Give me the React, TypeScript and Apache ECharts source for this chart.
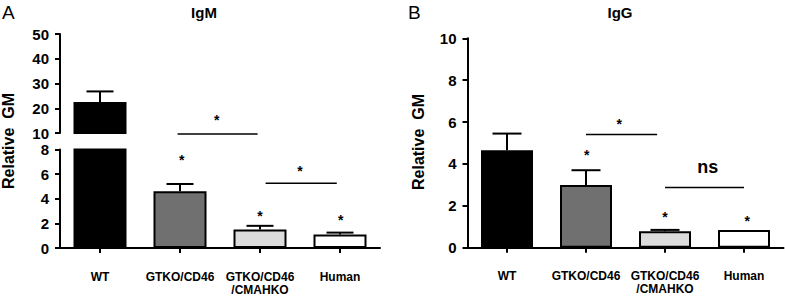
import React, { useEffect, useRef } from "react";
import * as echarts from "echarts";

const categories = ["WT", "GTKO/CD46", "GTKO/CD46\n/CMAHKO", "Human"];
const barColors = ["#000000", "#707070", "#dcdcdc", "#ffffff"];

// IgM (panel A) — broken axis
const igmMean = [22.5, 4.6, 1.5, 1.1];
const igmErrTop = [26.8, 5.2, 1.8, 1.25];
const igmLowerTicks = { min: 0, max: 8, interval: 2 };
const igmUpperTicks = { min: 10, max: 50, interval: 10 };
// significance lines: [fromCat, toCat, y]  (lower-grid units)
const igmSigLines = [
  [0.97, 1.97, 9.26],
  [2.07, 2.96, 5.26],
];
// significance marks: [cat, y, text]
const igmSigMarks: [number, number, string][] = [
  [1.46, 10.64, "*"],
  [2.5, 6.5, "*"],
  [1.02, 7.4, "*"],
  [2.0, 2.85, "*"],
  [3.01, 2.5, "*"],
];

// IgG (panel B)
const iggMean = [4.65, 3.0, 0.78, 0.84];
const iggErrTop = [5.45, 3.7, 0.85, 0.84];
const iggTicks = { min: 0, max: 10, interval: 2 };
const iggSigLines = [
  [1.0, 1.9, 5.41],
  [2.0, 3.0, 2.88],
];
const iggSigMarks: [number, number, string][] = [
  [1.42, 6.03, "*"],
  [2.54, 3.84, "ns"],
  [1.01, 4.56, "*"],
  [2.0, 1.6, "*"],
  [3.04, 1.41, "*"],
];

const FONT = '"Liberation Sans", Arial, Helvetica, sans-serif';

// category-axis position with fractional offset between bands
function catCoord(api: any, xv: number, y: number) {
  const base = Math.floor(xv);
  const frac = xv - base;
  const p = api.coord([base, y]);
  const band = api.size([1, 0])[0];
  return [p[0] + frac * band, p[1]];
}

function errorSeries(xi: number, yi: number, data: number[][], cap: number) {
  return {
    type: "custom",
    xAxisIndex: xi,
    yAxisIndex: yi,
    clip: false,
    silent: true,
    z: 1,
    data,
    renderItem: (params: any, api: any) => {
      const x = api.value(0);
      const v = api.value(1);
      const e = api.value(2);
      if (!(e > v)) return null;
      const p0 = api.coord([x, v]);
      const p1 = api.coord([x, e]);
      return {
        type: "group",
        children: [
          { type: "line", shape: { x1: p0[0], y1: p0[1], x2: p1[0], y2: p1[1] }, style: { stroke: "#000", lineWidth: 2 } },
          { type: "line", shape: { x1: p1[0] - cap / 2, y1: p1[1], x2: p1[0] + cap / 2, y2: p1[1] }, style: { stroke: "#000", lineWidth: 2 } },
        ],
      };
    },
  };
}

function sigLineSeries(xi: number, yi: number, data: number[][]) {
  return {
    type: "custom",
    xAxisIndex: xi,
    yAxisIndex: yi,
    clip: false,
    silent: true,
    data,
    renderItem: (params: any, api: any) => {
      const a = catCoord(api, api.value(0), api.value(2));
      const b = catCoord(api, api.value(1), api.value(2));
      return { type: "line", shape: { x1: a[0], y1: a[1], x2: b[0], y2: b[1] }, style: { stroke: "#000", lineWidth: 1.5 } };
    },
  };
}

function sigMarkSeries(xi: number, yi: number, marks: [number, number, string][]) {
  return {
    type: "custom",
    xAxisIndex: xi,
    yAxisIndex: yi,
    clip: false,
    silent: true,
    data: marks.map((m) => [m[0], m[1]]),
    renderItem: (params: any, api: any) => {
      const p = catCoord(api, api.value(0), api.value(1));
      const t = marks[params.dataIndex][2];
      const isStar = t === "*";
      return {
        type: "text",
        x: p[0],
        y: p[1] + (isStar ? 3 : 0),
        style: {
          text: t,
          fill: "#000",
          font: isStar ? `bold 14px ${FONT}` : `bold 18px ${FONT}`,
          align: "center",
          verticalAlign: "middle",
        },
      };
    },
  };
}

export default function App() {
  const ref = useRef<HTMLDivElement>(null);
  useEffect(() => {
    document.body.style.margin = "0";
    const chart = echarts.init(ref.current!, null, { renderer: "svg" });
    const axisLine = { show: true, lineStyle: { color: "#000", width: 2 } };
    const yLabel = { color: "#000", fontWeight: "bold", fontSize: 15, fontFamily: FONT, margin: 11 };
    const yTick = { show: true, length: 5, lineStyle: { color: "#000", width: 2 } };
    const xLabel = { color: "#000", fontWeight: "bold", fontSize: 12, lineHeight: 13, fontFamily: FONT, margin: 22, interval: 0 };
    const xTick = { show: true, alignWithLabel: true, length: 5, lineStyle: { color: "#000", width: 2 } };

    const barItems = (vals: number[]) =>
      vals.map((v, i) => ({ value: v, itemStyle: { color: barColors[i], borderColor: "#000", borderWidth: 2 } }));

    const option: any = {
      animation: false,
      grid: [
        { left: 60, top: 149.5, width: 320, height: 98.5 },
        { left: 60, top: 34, width: 320, height: 99 },
        { left: 467.5, top: 38.3, width: 316, height: 209.4 },
      ],
      xAxis: [
        { type: "category", gridIndex: 0, data: categories, axisLine, axisTick: xTick, axisLabel: xLabel, splitLine: { show: false } },
        { type: "category", gridIndex: 1, data: categories, show: false },
        { type: "category", gridIndex: 2, data: categories, axisLine, axisTick: xTick, axisLabel: xLabel, splitLine: { show: false } },
      ],
      yAxis: [
        { type: "value", gridIndex: 0, ...igmLowerTicks, axisLine, axisTick: yTick, axisLabel: yLabel, splitLine: { show: false } },
        { type: "value", gridIndex: 1, ...igmUpperTicks, axisLine, axisTick: yTick, axisLabel: yLabel, splitLine: { show: false } },
        { type: "value", gridIndex: 2, ...iggTicks, axisLine, axisTick: yTick, axisLabel: yLabel, splitLine: { show: false } },
      ],
      graphic: [
        { type: "text", left: 2, top: 3, style: { text: "A", font: `19px ${FONT}`, fill: "#000" } },
        { type: "text", left: 408, top: 3, style: { text: "B", font: `19px ${FONT}`, fill: "#000" } },
        { type: "text", x: 204, y: 12, style: { text: "IgM", font: `bold 15px ${FONT}`, fill: "#000", align: "center", verticalAlign: "middle" } },
        { type: "text", x: 620, y: 12, style: { text: "IgG", font: `bold 15px ${FONT}`, fill: "#000", align: "center", verticalAlign: "middle" } },
        { type: "text", x: 8, y: 141, rotation: Math.PI / 2, style: { text: "Relative  GM", font: `bold 16px ${FONT}`, fill: "#000", align: "center", verticalAlign: "middle" } },
        { type: "text", x: 418, y: 142, rotation: Math.PI / 2, style: { text: "Relative  GM", font: `bold 16px ${FONT}`, fill: "#000", align: "center", verticalAlign: "middle" } },
      ],
      series: [
        { type: "bar", xAxisIndex: 0, yAxisIndex: 0, barWidth: 53, clip: true, data: barItems(igmMean) },
        {
          type: "bar", xAxisIndex: 1, yAxisIndex: 1, barWidth: 53, clip: true,
          data: barItems(igmMean).map((d) => (d.value > igmUpperTicks.min ? d : "-")),
        },
        errorSeries(0, 0, igmMean.map((v, i) => [i, v, igmErrTop[i]]).filter((d) => d[2] <= igmLowerTicks.max), 27),
        errorSeries(1, 1, igmMean.map((v, i) => [i, v, igmErrTop[i]]).filter((d) => d[1] > igmUpperTicks.min), 27),
        sigLineSeries(0, 0, igmSigLines),
        sigMarkSeries(0, 0, igmSigMarks),
        { type: "bar", xAxisIndex: 2, yAxisIndex: 2, barWidth: 52, clip: true, data: barItems(iggMean) },
        errorSeries(2, 2, iggMean.map((v, i) => [i, v, iggErrTop[i]]), 29),
        sigLineSeries(2, 2, iggSigLines),
        sigMarkSeries(2, 2, iggSigMarks),
      ],
    };
    chart.setOption(option);
    return () => chart.dispose();
  }, []);
  return <div ref={ref} style={{ width: 785, height: 296 }} />;
}
